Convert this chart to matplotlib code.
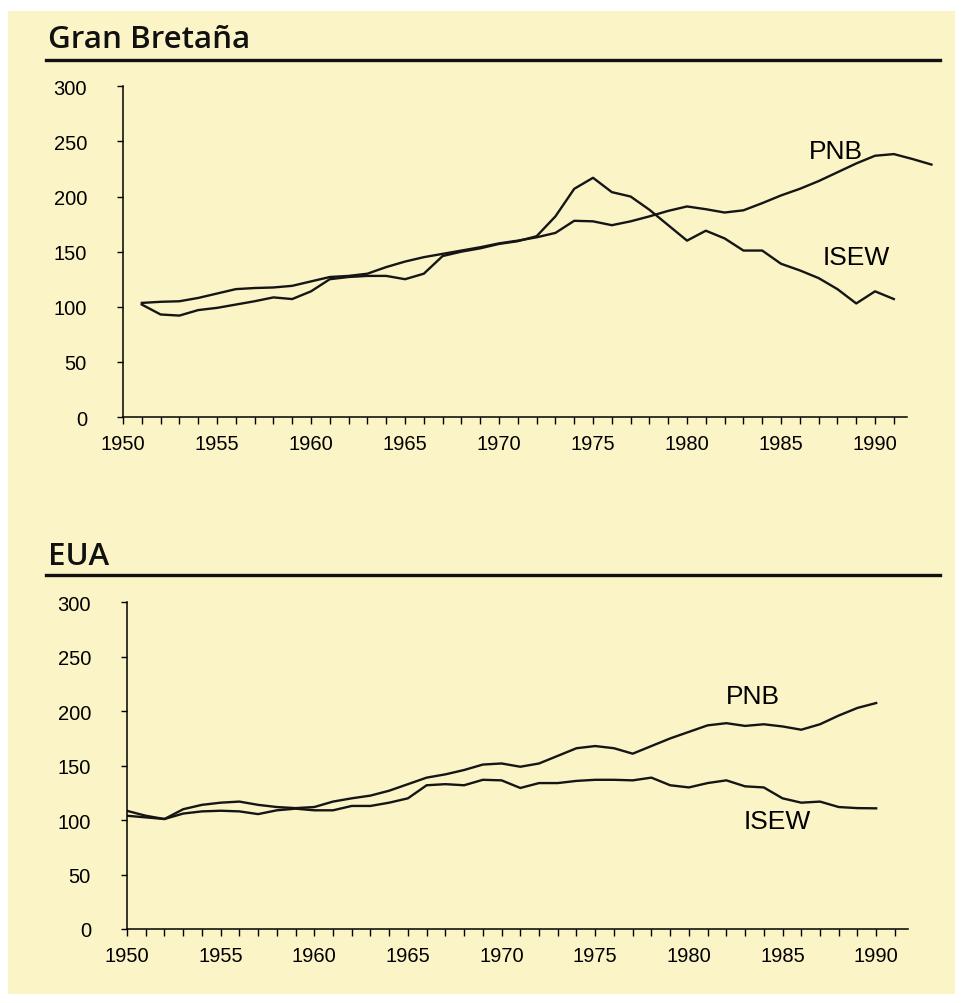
import matplotlib
matplotlib.use("Agg")
import matplotlib.pyplot as plt
from matplotlib.patches import Rectangle
from matplotlib.lines import Line2D

# Gran Bretaña
gb_years_pnb = list(range(1951, 1994))
gb_pnb = [103.5, 104.5, 105, 108, 112, 116, 117, 117.5, 119, 123,
          127, 128, 130, 136, 141, 145, 148, 151, 154, 157.5,
          160, 163, 167, 178, 177.5, 174, 177.5, 182, 187, 191,
          188.5, 185.5, 187.5, 194, 201, 207, 214, 222, 230, 237,
          238.5, 234, 229]
gb_years_isew = list(range(1951, 1992))
gb_isew = [102, 93, 92, 97, 99, 102, 105, 108.5, 107, 114,
           125, 127, 128, 128, 125, 130, 146, 150, 153, 157,
           159.5, 164, 182, 207, 217, 204, 200, 188, 174, 160,
           169, 162, 151, 151, 139, 133, 126, 116, 103, 114,
           107]

# EUA
us_years = list(range(1950, 1991))
us_pnb = [108.5, 104, 101, 110, 114, 116, 117, 114, 112, 111,
          112, 117, 120, 122.5, 127, 133, 139, 142, 146, 151,
          152, 149, 152, 159, 166, 168, 166, 161, 168, 175,
          181, 187, 189, 186.5, 188, 186, 183, 188, 196, 203,
          207.5]
us_isew = [104, 102.5, 101, 106, 108, 108.6, 108, 105.5, 109, 110.5,
           109, 109, 113, 113, 116, 120, 132, 133, 132, 137,
           136.5, 129.5, 134, 134, 136, 137, 137, 136.5, 139, 132,
           130, 134, 136.5, 131, 130, 120, 116, 117, 112, 111,
           110.8]

yticks = [0, 50, 100, 150, 200, 250, 300]
xticks = [1950, 1955, 1960, 1965, 1970, 1975, 1980, 1985, 1990]

bg = '#fbf4c6'
tick_font = 'Liberation Sans'

fig = plt.figure(figsize=(9.63, 10.04), dpi=100)
fig.patch.set_facecolor('white')
fig.add_artist(Rectangle((8 / 963, 1 - 995 / 1004), 947 / 963, 983 / 1004,
                         transform=fig.transFigure, facecolor=bg,
                         edgecolor='none', zorder=-10))


def make_panel(rect, title, title_y, rule_y):
    ax = fig.add_axes(rect)
    ax.set_facecolor('none')
    ax.spines['top'].set_visible(False)
    ax.spines['right'].set_visible(False)
    ax.spines['left'].set_linewidth(1.1)
    ax.spines['bottom'].set_linewidth(1.1)
    ax.set_xlim(1950, 1991.7)
    ax.set_ylim(0, 300)
    ax.set_yticks(yticks)
    ax.set_xticks(xticks)
    ax.set_xticks(range(1950, 1992), minor=True)
    ax.tick_params(axis='y', length=4, width=1, pad=22, labelsize=14.5)
    ax.tick_params(axis='x', which='both', length=5, width=1, pad=7,
                   labelsize=14.5)
    for lab in ax.get_xticklabels() + ax.get_yticklabels():
        lab.set_fontfamily(tick_font)
    fig.text(48 / 963, 1 - title_y / 1004, title, fontsize=22.5,
             family='Open Sans', fontweight='semibold', va='center',
             ha='left', color='#111111')
    fig.add_artist(Line2D([46 / 963, 940 / 963],
                          [1 - rule_y / 1004, 1 - rule_y / 1004],
                          transform=fig.transFigure, color='#111111',
                          linewidth=2.4))
    return ax


ax1 = make_panel([123 / 963, 1 - 418 / 1004, 784 / 963, 330.7 / 1004],
                 'Gran Bretaña', 40, 61)
ax1.plot(gb_years_pnb, gb_pnb, color='#151515', linewidth=1.7, clip_on=False)
ax1.plot(gb_years_isew, gb_isew, color='#151515', linewidth=1.7)
ax1.text(1987.9, 241, 'PNB', fontsize=19, family=tick_font,
         ha='center', va='center')
ax1.text(1989.0, 145, 'ISEW', fontsize=19, family=tick_font,
         ha='center', va='center')

ax2 = make_panel([127 / 963, 1 - 930 / 1004, 781 / 963, 326.7 / 1004],
                 'EUA', 557, 576)
ax2.plot(us_years, us_pnb, color='#151515', linewidth=1.7)
ax2.plot(us_years, us_isew, color='#151515', linewidth=1.7)
ax2.text(1983.4, 214, 'PNB', fontsize=19, family=tick_font,
         ha='center', va='center')
ax2.text(1984.7, 99, 'ISEW', fontsize=19, family=tick_font,
         ha='center', va='center')

fig.savefig('out.png', dpi=100, facecolor=fig.get_facecolor())
